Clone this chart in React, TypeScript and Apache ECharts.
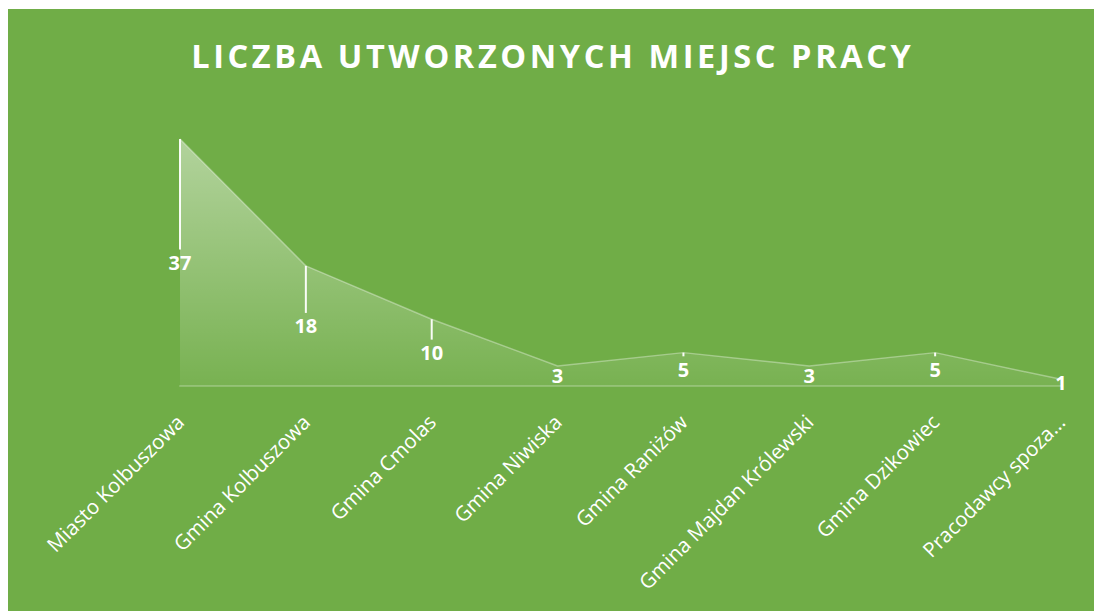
import React, { useEffect, useRef } from "react";
import * as echarts from "echarts";

const TITLE = "LICZBA UTWORZONYCH MIEJSC PRACY";
const categories = [
  "Miasto Kolbuszowa",
  "Gmina Kolbuszowa",
  "Gmina Cmolas",
  "Gmina Niwiska",
  "Gmina Raniżów",
  "Gmina Majdan Królewski",
  "Gmina Dzikowiec",
  "Pracodawcy spoza...",
];
const values = [37, 18, 10, 3, 5, 3, 5, 1];
const yMin = 0;
const yMax = 40;

const FONT = '"Open Sans", "Noto Sans", sans-serif';

export default function App() {
  const ref = useRef<HTMLDivElement>(null);
  useEffect(() => {
    if (!ref.current) return;
    const chart = echarts.init(ref.current, null, { renderer: "svg" });
    chart.setOption({
      animation: false,
      backgroundColor: "#70AD47",
      title: {
        text: TITLE,
        left: "center",
        top: 25,
        textStyle: {
          color: "#ffffff",
          fontSize: 32.5,
          fontWeight: "bold",
          fontFamily: FONT,
        },
      },
      grid: { left: 172, right: 33, top: 110, bottom: 225, containLabel: false },
      xAxis: {
        type: "category",
        data: categories,
        boundaryGap: false,
        axisLine: { show: true, lineStyle: { color: "rgba(255,255,255,0.22)", width: 2 } },
        axisTick: { show: false },
        axisLabel: {
          interval: 0,
          rotate: 45,
          margin: 32,
          color: "#ffffff",
          fontSize: 20.5,
          fontFamily: FONT,
        },
        splitLine: { show: false },
      },
      yAxis: {
        type: "value",
        min: yMin,
        max: yMax,
        show: false,
        splitLine: { show: false },
      },
      series: [
        {
          type: "line",
          data: values,
          symbol: "none",
          lineStyle: { color: "rgba(255,255,255,0.35)", width: 1.5 },
          areaStyle: {
            color: new echarts.graphic.LinearGradient(0, 0, 0, 1, [
              { offset: 0, color: "rgba(255,255,255,0.66)" },
              { offset: 1, color: "rgba(255,255,255,0.08)" },
            ]),
          },
          z: 2,
        },
        {
          type: "custom",
          data: values.map((v, i) => [i, v]),
          encode: { x: 0, y: 1 },
          z: 5,
          renderItem: (params: any, api: any) => {
            const i = api.value(0);
            const v = api.value(1);
            const top = api.coord([i, v]);
            const base = api.coord([i, 0]);
            const midY = (top[1] + base[1]) / 2;
            const children: any[] = [];
            const lineEnd = midY - 13;
            if (lineEnd > top[1] + 1) {
              children.push({
                type: "line",
                shape: { x1: top[0], y1: top[1], x2: top[0], y2: lineEnd },
                style: { stroke: "rgba(255,255,255,0.95)", lineWidth: 2 },
              });
            }
            children.push({
              type: "text",
              style: {
                text: String(v),
                x: top[0],
                y: midY,
                align: "center",
                verticalAlign: "middle",
                fill: "#ffffff",
                fontSize: 20,
                fontWeight: "bold",
                fontFamily: FONT,
              },
            });
            return { type: "group", children };
          },
        },
      ],
    });
    // widen the title's letter spacing like the original
    const texts = ref.current.querySelectorAll("text");
    texts.forEach((t) => {
      if (t.textContent === TITLE) {
        t.setAttribute("letter-spacing", "3.6px");
        t.setAttribute("dx", "1.8");
      }
    });
    return () => chart.dispose();
  }, []);
  return (
    <div
      ref={ref}
      style={{ position: "fixed", left: 8, top: 9, right: 0, bottom: 0 }}
    />
  );
}
